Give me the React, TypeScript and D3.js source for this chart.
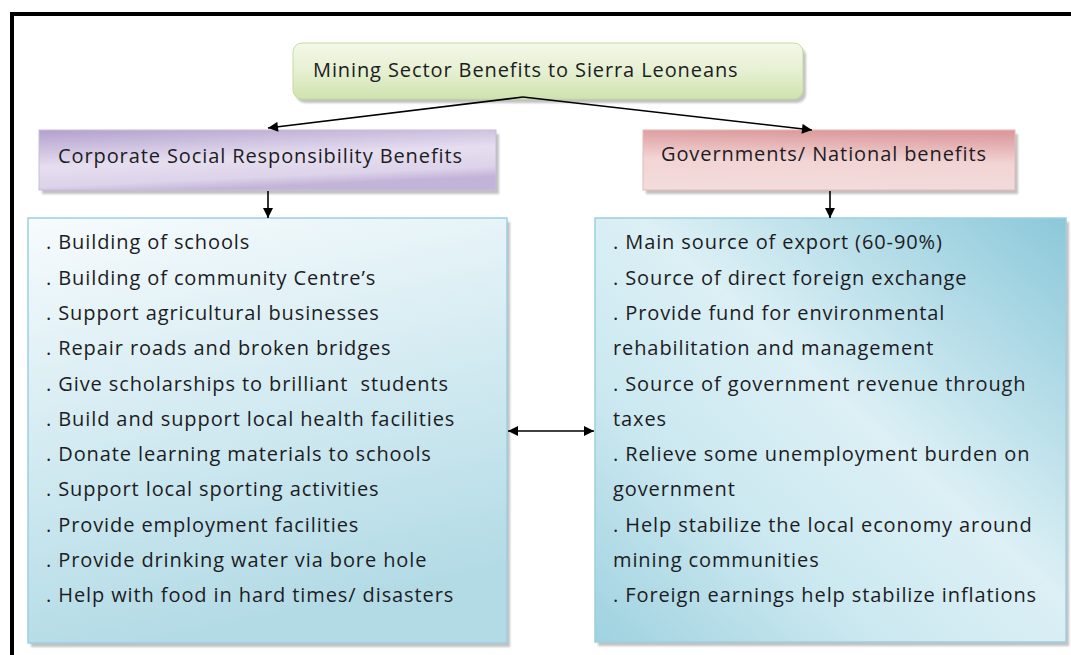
import React from "react";
import * as d3 from "d3";

const title = "Mining Sector Benefits to Sierra Leoneans";
const branches = ["Corporate Social Responsibility Benefits", "Governments/ National benefits"];
const leftItems = [
  ". Building of schools",
  ". Building of community Centre\u2019s",
  ". Support agricultural businesses",
  ". Repair roads and broken bridges",
  ". Give scholarships to brilliant  students",
  ". Build and support local health facilities",
  ". Donate learning materials to schools",
  ". Support local sporting activities",
  ". Provide employment facilities",
  ". Provide drinking water via bore hole",
  ". Help with food in hard times/ disasters",
];
const rightItems = [
  ". Main source of export (60-90%)",
  ". Source of direct foreign exchange",
  ". Provide fund for environmental",
  "rehabilitation and management",
  ". Source of government revenue through",
  "taxes",
  ". Relieve some unemployment burden on",
  "government",
  ". Help stabilize the local economy around",
  "mining communities",
  ". Foreign earnings help stabilize inflations",
];

const W = 1071;
const H = 655;
const FONT = "'Open Sans', Lato, sans-serif";
const TXT = "#1c1c24";
const FS = 20;
const LS = "0.9px";

export default function App() {
  const lineY = d3.scaleLinear().domain([0, 10]).range([244, 597]);
  const arrowLine = d3.line<[number, number]>();

  const top = { x: 293, y: 43, w: 510, h: 56 };
  const purple = { x: 39, y: 130, w: 457, h: 60 };
  const red = { x: 643, y: 130, w: 372, h: 60 };
  const lb = { x: 28, y: 218, w: 479, h: 425 };
  const rb = { x: 595, y: 218, w: 471, h: 424 };

  const shadow = (b: any, r = 0) => (
    <rect x={b.x + 3} y={b.y + 4} width={b.w} height={b.h} rx={r} fill="#8f8f8f" opacity={0.55} filter="url(#blur)" />
  );

  const tStyle = { letterSpacing: LS, whiteSpace: "pre" } as any;

  return (
    <svg width={W} height={H} style={{ position: "absolute", left: 0, top: 0, background: "#fff" }}>
      <defs>
        <filter id="blur" x="-5%" y="-5%" width="110%" height="115%">
          <feGaussianBlur stdDeviation="1.2" />
        </filter>
        <marker id="ah" viewBox="0 0 10 10" refX="10" refY="5" markerWidth="14" markerHeight="10" markerUnits="userSpaceOnUse" orient="auto-start-reverse">
          <path d="M0,0 L10,5 L0,10 z" fill="#000" />
        </marker>
        <linearGradient id="gGreen" x1="0" y1="0" x2="0" y2="1">
          <stop offset="0" stopColor="#f3f8e8" />
          <stop offset="0.5" stopColor="#e6f0d2" />
          <stop offset="1" stopColor="#cfe2ae" />
        </linearGradient>
        <linearGradient id="gPurple" x1="0" y1="0" x2="0.35" y2="1">
          <stop offset="0" stopColor="#b2a0cc" />
          <stop offset="0.55" stopColor="#e6def0" />
          <stop offset="0.85" stopColor="#ddd3ea" />
          <stop offset="1" stopColor="#c2b3d8" />
        </linearGradient>
        <linearGradient id="gRed" x1="0.4" y1="0" x2="0.3" y2="1">
          <stop offset="0" stopColor="#dc9a9c" />
          <stop offset="0.5" stopColor="#f2d4d4" />
          <stop offset="1" stopColor="#f3dcdc" />
        </linearGradient>
        <linearGradient id="gLeft" x1="0" y1="0" x2="0.25" y2="1">
          <stop offset="0" stopColor="#f7fbfd" />
          <stop offset="0.45" stopColor="#d8edf3" />
          <stop offset="1" stopColor="#b3dbe6" />
        </linearGradient>
        <linearGradient id="gRight" x1="1" y1="0" x2="0" y2="1">
          <stop offset="0" stopColor="#8bc8da" />
          <stop offset="0.45" stopColor="#dcf0f5" />
          <stop offset="0.7" stopColor="#cbe8f0" />
          <stop offset="1" stopColor="#9fd2e0" />
        </linearGradient>
      </defs>

      {/* outer frame */}
      <rect x={12} y={14} width={1200} height={800} fill="none" stroke="#000" strokeWidth={4} />

      {/* top box */}
      {shadow(top, 9)}
      <rect x={top.x} y={top.y} width={top.w} height={top.h} rx={9} fill="url(#gGreen)" stroke="#c4dba0" strokeWidth={1} />
      <text x={313} y={top.y + top.h / 2 + 1} dominantBaseline="middle" fontFamily={FONT} fontSize={FS} fill={TXT} style={tStyle}>
        {title}
      </text>

      {/* branch boxes */}
      {shadow(purple)}
      <rect x={purple.x} y={purple.y} width={purple.w} height={purple.h} fill="url(#gPurple)" stroke="#c9bcdc" strokeWidth={1} />
      <text x={58} y={purple.y + 28} dominantBaseline="middle" fontFamily={FONT} fontSize={FS} fill={TXT} style={tStyle}>
        {branches[0]}
      </text>
      {shadow(red)}
      <rect x={red.x} y={red.y} width={red.w} height={red.h} fill="url(#gRed)" stroke="#e8b8b8" strokeWidth={1} />
      <text x={661} y={red.y + 26} dominantBaseline="middle" fontFamily={FONT} fontSize={FS} fill={TXT} style={tStyle}>
        {branches[1]}
      </text>

      {/* content boxes */}
      {shadow(lb)}
      <rect x={lb.x} y={lb.y} width={lb.w} height={lb.h} fill="url(#gLeft)" stroke="#9ccfdf" strokeWidth={1.5} />
      {shadow(rb)}
      <rect x={rb.x} y={rb.y} width={rb.w} height={rb.h} fill="url(#gRight)" stroke="#9ccfdf" strokeWidth={1.5} />

      {leftItems.map((t, i) => (
        <text key={"l" + i} x={46} y={lineY(i)} dominantBaseline="middle" fontFamily={FONT} fontSize={FS} fill={TXT} style={tStyle}>
          {t}
        </text>
      ))}
      {rightItems.map((t, i) => (
        <text key={"r" + i} x={613} y={lineY(i)} dominantBaseline="middle" fontFamily={FONT} fontSize={FS} fill={TXT} style={tStyle}>
          {t}
        </text>
      ))}

      {/* arrows */}
      <g stroke="#000" strokeWidth={1.6} fill="none">
        <path d={arrowLine([[523, 97], [268, 128]]) || ""} markerEnd="url(#ah)" />
        <path d={arrowLine([[523, 97], [812, 130]]) || ""} markerEnd="url(#ah)" />
        <path d={arrowLine([[268, 191], [268, 218]]) || ""} markerEnd="url(#ah)" />
        <path d={arrowLine([[830, 191], [830, 218]]) || ""} markerEnd="url(#ah)" />
        <path d={arrowLine([[508, 431], [594, 431]]) || ""} markerStart="url(#ah)" markerEnd="url(#ah)" />
      </g>
    </svg>
  );
}
